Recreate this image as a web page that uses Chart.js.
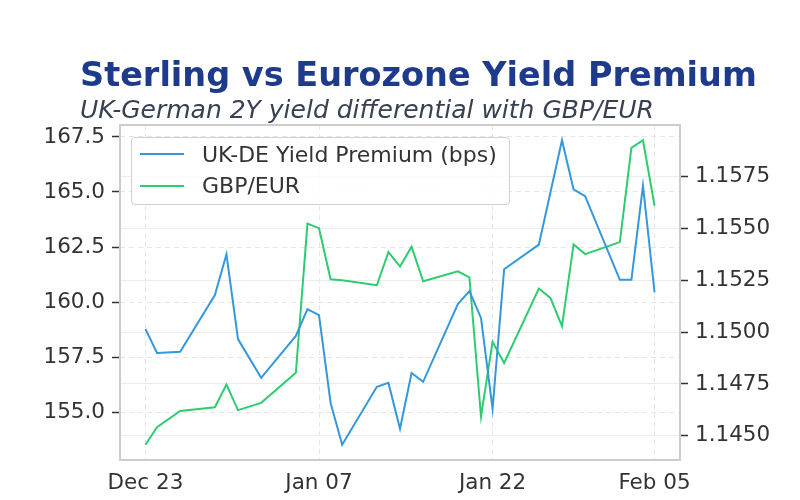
<!DOCTYPE html>
<html>
<head>
<meta charset="utf-8">
<script src="https://cdn.jsdelivr.net/npm/chart.js@4.4.1/dist/chart.umd.min.js"></script>
<style>
  body { margin: 0; background: #fff; }
  #wrap { position: relative; width: 800px; height: 500px; font-family: 'DejaVu Sans', sans-serif; }
  #chart { position: absolute; left: 0; top: 0; }
  #title { position: absolute; left: 80px; top: 55px; font-size: 33.5px; line-height: 40px; font-weight: bold; color: #1e3a8a; white-space: nowrap; }
  #subtitle { position: absolute; left: 80px; top: 95px; font-size: 25px; line-height: 30px; font-style: italic; color: #374151; white-space: nowrap; }
  #legend { position: absolute; left: 131px; top: 137px; width: 377px; height: 66px; border: 1px solid #d0d0d0; border-radius: 4px; background: rgba(255,255,255,0.85); box-sizing: content-box; }
  #legend .row { display: flex; align-items: center; height: 31px; margin-top: 0.5px; }
  #legend .swatch { width: 44px; height: 2px; margin-left: 8px; }
  #legend .label { margin-left: 18px; font-size: 22px; line-height: 31px; color: #333; white-space: nowrap; }
</style>
</head>
<body>
<div id="wrap">
  <canvas id="chart" width="800" height="500"></canvas>
  <div id="title">Sterling vs Eurozone Yield Premium</div>
  <div id="subtitle">UK-German 2Y yield differential with GBP/EUR</div>
  <div id="legend"></div>
</div>
<script>
// trading days shown on the chart
const dates = [
    '2025-12-23', '2025-12-24', '2025-12-26', '2025-12-29', '2025-12-30', '2025-12-31',
    '2026-01-02', '2026-01-05', '2026-01-06', '2026-01-07', '2026-01-08', '2026-01-09',
    '2026-01-12', '2026-01-13', '2026-01-14', '2026-01-15', '2026-01-16',
    '2026-01-19', '2026-01-20', '2026-01-21', '2026-01-22', '2026-01-23',
    '2026-01-26', '2026-01-27', '2026-01-28', '2026-01-29', '2026-01-30',
    '2026-02-02', '2026-02-03', '2026-02-04', '2026-02-05'
];

// UK-DE 2Y spread, bps
const yieldPremium = [
    158.78, 157.69, 157.74, 160.32, 162.17, 158.32,
    156.56, 158.46, 159.68, 159.41, 155.43, 153.52,
    156.15, 156.33, 154.25, 156.78, 156.38,
    159.91, 160.50, 159.28, 155.15, 161.49,
    162.61, 164.98, 167.35, 165.12, 164.81,
    161.01, 161.01, 165.29, 160.44
];

// GBP/EUR spot
const gbpEur = [
    1.14457, 1.14542, 1.14620, 1.14638, 1.14747, 1.14624,
    1.14659, 1.14804, 1.15523, 1.15501, 1.15255, 1.15250,
    1.15226, 1.15386, 1.15316, 1.15412, 1.15245,
    1.15293, 1.15264, 1.14593, 1.14953, 1.14851,
    1.15210, 1.15165, 1.15029, 1.15423, 1.15376,
    1.15434, 1.15888, 1.15925, 1.15609
];

const leftTicks = [155, 157.5, 160, 162.5, 165, 167.5];
const rightTicks = [1.145, 1.1475, 1.15, 1.1525, 1.155, 1.1575];
const xTickDates = ['2025-12-23', '2026-01-07', '2026-01-22', '2026-02-05'];

const DAY = 86400000;
const MONTHS = ['Jan', 'Feb', 'Mar', 'Apr', 'May', 'Jun', 'Jul', 'Aug', 'Sep', 'Oct', 'Nov', 'Dec'];
const t0 = Date.parse(dates[0] + 'T00:00:00Z');
const toDay = d => (Date.parse(d + 'T00:00:00Z') - t0) / DAY;
const fmtDate = d => {
    const dt = new Date(d + 'T00:00:00Z');
    return MONTHS[dt.getUTCMonth()] + ' ' + String(dt.getUTCDate()).padStart(2, '0');
};

// 5% margins like matplotlib
function padRange(vals) {
    const lo = Math.min(...vals), hi = Math.max(...vals), m = (hi - lo) * 0.05;
    return [lo - m, hi + m];
}
const xDays = dates.map(toDay);
const xRange = padRange(xDays);
const yRange = padRange(yieldPremium);
const y2Range = padRange(gbpEur);

Chart.defaults.font.family = "'DejaVu Sans', sans-serif";
Chart.defaults.color = '#333';

// grey frame round the plot area
const frame = {
    id: 'frame',
    afterDatasetsDraw(chart) {
        const { ctx, chartArea: a } = chart;
        ctx.save();
        ctx.strokeStyle = '#cccccc';
        ctx.lineWidth = 2;
        ctx.strokeRect(a.left, a.top, a.right - a.left, a.bottom - a.top);
        ctx.restore();
    }
};

const TICK_FONT = { size: 21.5 };

const ctx = document.getElementById('chart').getContext('2d');
const chart = new Chart(ctx, {
    type: 'line',
    data: {
        datasets: [
            {
                label: 'UK-DE Yield Premium (bps)',
                data: dates.map((d, i) => ({ x: xDays[i], y: yieldPremium[i] })),
                borderColor: '#3498db',
                borderWidth: 2,
                pointRadius: 0,
                yAxisID: 'y'
            },
            {
                label: 'GBP/EUR',
                data: dates.map((d, i) => ({ x: xDays[i], y: gbpEur[i] })),
                borderColor: '#2ecc71',
                borderWidth: 2,
                pointRadius: 0,
                yAxisID: 'y2'
            }
        ]
    },
    options: {
        responsive: false,
        animation: false,
        layout: { padding: { top: 125, left: 0, right: 0, bottom: 0 } },
        plugins: {
            legend: { display: false },
            tooltip: { enabled: false }
        },
        scales: {
            x: {
                type: 'linear',
                min: xRange[0],
                max: xRange[1],
                afterBuildTicks: s => { s.ticks = xTickDates.map(d => ({ value: toDay(d) })); },
                afterFit: s => { s.height = 40; },
                ticks: {
                    callback: (v, i) => fmtDate(xTickDates[i]),
                    font: TICK_FONT,
                    color: '#333',
                    padding: 11,
                    maxRotation: 0,
                    autoSkip: false
                },
                grid: { color: '#e6e6e6', drawTicks: false },
                border: { display: false, dash: [5, 4] }
            },
            y: {
                position: 'left',
                min: yRange[0],
                max: yRange[1],
                afterBuildTicks: s => { s.ticks = leftTicks.map(v => ({ value: v })); },
                afterFit: s => { s.width = 120; },
                ticks: { callback: v => v.toFixed(1), font: TICK_FONT, color: '#333', padding: 7 },
                grid: { color: '#e6e6e6', tickColor: '#333', tickLength: 8, tickWidth: 1.5, tickBorderDash: [] },
                border: { display: false, dash: [5, 4] }
            },
            y2: {
                position: 'right',
                min: y2Range[0],
                max: y2Range[1],
                afterBuildTicks: s => { s.ticks = rightTicks.map(v => ({ value: v })); },
                afterFit: s => { s.width = 120; },
                ticks: { callback: v => v.toFixed(4), font: TICK_FONT, color: '#333', padding: 7 },
                grid: { color: '#ececec', tickColor: '#333', tickLength: 8, tickWidth: 1.5 },
                border: { display: false }
            }
        }
    },
    plugins: [frame]
});

// legend box built from the datasets
const legend = document.getElementById('legend');
chart.data.datasets.forEach(ds => {
    const row = document.createElement('div');
    row.className = 'row';
    const sw = document.createElement('span');
    sw.className = 'swatch';
    sw.style.background = ds.borderColor;
    const lb = document.createElement('span');
    lb.className = 'label';
    lb.textContent = ds.label;
    row.appendChild(sw);
    row.appendChild(lb);
    legend.appendChild(row);
});
</script>
</body>
</html>
